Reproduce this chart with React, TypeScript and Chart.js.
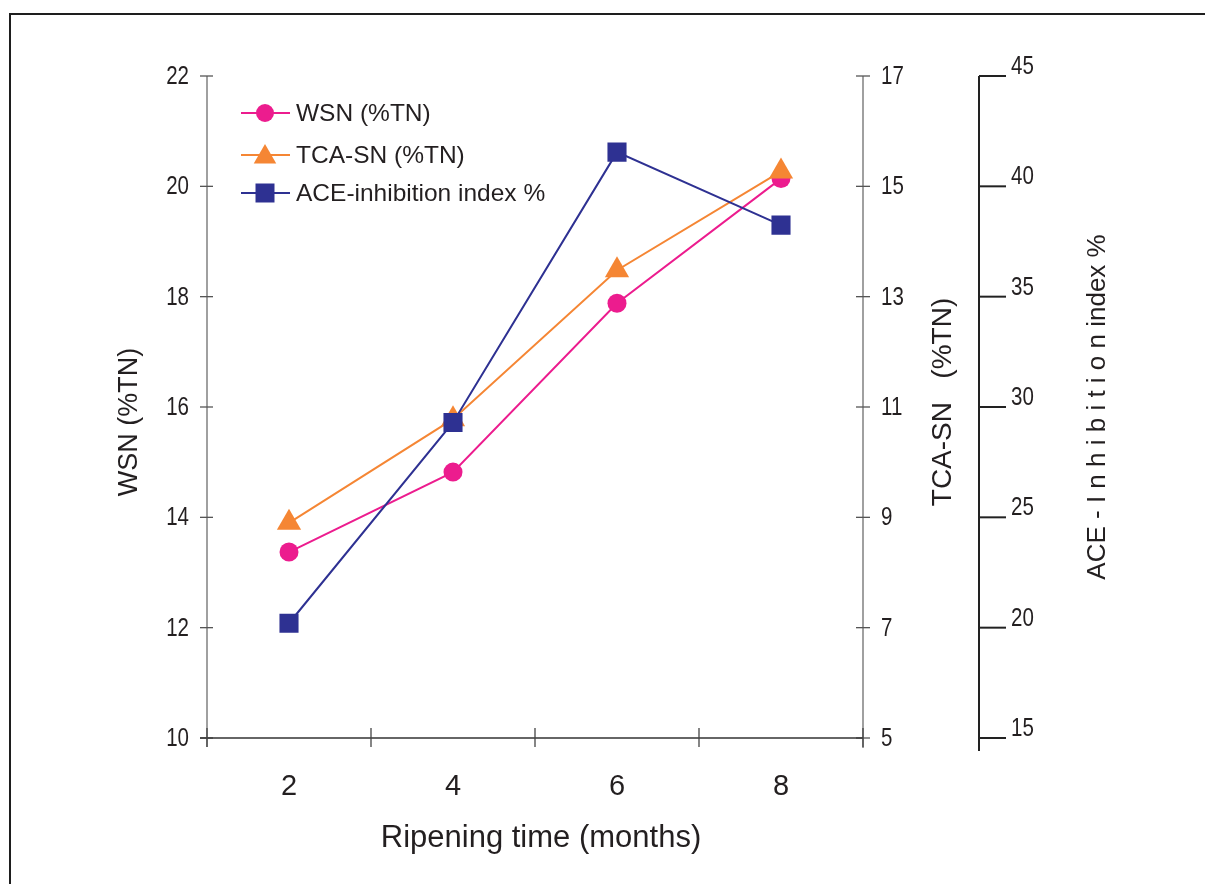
import React, { useEffect, useRef } from "react";
import { Chart, registerables } from "chart.js";

Chart.register(...registerables);

// ---- data ----
const months = ["2", "4", "6", "8"];
const wsnValues = [13.37, 14.82, 17.88, 20.14];
const tcaValues = [8.9, 10.78, 13.48, 15.27];
const aceValues = [20.2, 29.3, 41.55, 38.24];

const wsnRange = [10, 22];
const wsnStep = 2;
const tcaRange = [5, 17];
const tcaStep = 2;
const aceRange = [15, 45];
const aceStep = 5;

const seriesLabels = ["WSN (%TN)", "TCA-SN (%TN)", "ACE-inhibition index %"];
const seriesColors = ["#EC1C8E", "#F58634", "#2E3192"];

const xTitle = "Ripening time (months)";
const wsnTitle = "WSN (%TN)";
const tcaTitle = "TCA-SN   (%TN)";
const aceTitle = "ACE - I n h i b i t i o n index %";

const SANS = "'Liberation Sans', Arial, Helvetica, sans-serif";
const INK = "#231f20";

function seg(ctx: CanvasRenderingContext2D, x1: number, y1: number, x2: number, y2: number, color: string, w: number) {
  ctx.beginPath();
  ctx.strokeStyle = color;
  ctx.lineWidth = w;
  ctx.moveTo(x1, y1);
  ctx.lineTo(x2, y2);
  ctx.stroke();
}

function marker(ctx: CanvasRenderingContext2D, style: string, x: number, y: number, color: string) {
  ctx.fillStyle = color;
  ctx.beginPath();
  if (style === "circle") {
    ctx.arc(x, y, 9, 0, Math.PI * 2);
  } else if (style === "triangle") {
    const r = 13;
    ctx.moveTo(x, y - r);
    ctx.lineTo(x + r * 0.866, y + r / 2);
    ctx.lineTo(x - r * 0.866, y + r / 2);
    ctx.closePath();
  } else {
    ctx.rect(x - 9.5, y - 9.5, 19, 19);
  }
  ctx.fill();
}

// narrow (horizontally condensed) tick label
function narrowText(ctx: CanvasRenderingContext2D, text: string, x: number, y: number, align: CanvasTextAlign) {
  ctx.save();
  ctx.translate(x, y);
  ctx.scale(0.82, 1);
  ctx.font = `25px ${SANS}`;
  ctx.fillStyle = INK;
  ctx.textAlign = align;
  ctx.textBaseline = "middle";
  ctx.fillText(text, 0, 0);
  ctx.restore();
}

const decorPlugin = {
  id: "decor",
  beforeDatasetsDraw(chart: any) {
    const ctx: CanvasRenderingContext2D = chart.ctx;
    const { x, y, y1, y2 } = chart.scales;
    const a = chart.chartArea;
    ctx.save();
    // left axis
    seg(ctx, a.left, a.top, a.left, a.bottom + 9, "#808080", 1.5);
    y.ticks.forEach((t: any) => {
      const p = y.getPixelForValue(t.value);
      seg(ctx, a.left - 7, p, a.left + 6, p, "#555", 1.3);
      narrowText(ctx, String(t.label), a.left - 18, p + 1, "right");
    });
    // right TCA axis
    seg(ctx, a.right, a.top, a.right, a.bottom + 10, "#808080", 1.5);
    y1.ticks.forEach((t: any) => {
      const p = y1.getPixelForValue(t.value);
      seg(ctx, a.right - 7, p, a.right + 7, p, "#555", 1.3);
      narrowText(ctx, String(t.label), a.right + 18, p + 1, "left");
    });
    // ACE axis
    const ax = y2.left;
    seg(ctx, ax, a.top, ax, a.bottom + 13, "#222", 2);
    y2.ticks.forEach((t: any) => {
      const p = y2.getPixelForValue(t.value);
      seg(ctx, ax, p, ax + 27, p, "#222", 2);
      narrowText(ctx, String(t.label), ax + 32, p - 9, "left");
    });
    // x axis
    seg(ctx, a.left - 7, a.bottom, a.right, a.bottom, "#333", 1.5);
    const n = x.ticks.length;
    const half = (x.getPixelForValue(1) - x.getPixelForValue(0)) / 2;
    for (let i = 0; i <= n; i++) {
      const p = i < n ? x.getPixelForValue(i) - half : x.getPixelForValue(n - 1) + half;
      seg(ctx, p, a.bottom - 10, p, a.bottom + 9, "#444", 1.3);
    }
    ctx.restore();
  },
  afterDraw(chart: any) {
    const ctx: CanvasRenderingContext2D = chart.ctx;
    ctx.save();
    ctx.fillStyle = INK;
    // x title
    ctx.font = `31px ${SANS}`;
    ctx.textAlign = "center";
    ctx.textBaseline = "alphabetic";
    ctx.fillText(xTitle, 541, 847);
    // rotated titles
    const rot = (text: string, bx: number, cy: number, font: string, sx: number) => {
      ctx.save();
      ctx.translate(bx, cy);
      ctx.rotate(-Math.PI / 2);
      ctx.scale(sx, 1);
      ctx.font = font;
      ctx.textAlign = "center";
      ctx.textBaseline = "alphabetic";
      ctx.fillText(text, 0, 0);
      ctx.restore();
    };
    rot(wsnTitle, 137, 422, `27px ${SANS}`, 1);
    rot(tcaTitle, 951, 402, `28px ${SANS}`, 1);
    rot(aceTitle, 1105, 407, `25px ${SANS}`, 1.04);

    // legend
    const styles = ["circle", "triangle", "rect"];
    const rows = [113, 155, 193];
    chart.data.datasets.forEach((ds: any, i: number) => {
      const yy = rows[i];
      seg(ctx, 241, yy, 290, yy, ds.borderColor, 2);
      marker(ctx, styles[i], 265, i === 1 ? yy + 2 : yy, ds.borderColor);
      ctx.fillStyle = INK;
      ctx.font = `24.5px ${SANS}`;
      ctx.textAlign = "left";
      ctx.textBaseline = "middle";
      ctx.fillText(ds.label, 296, yy + 1);
    });
    ctx.restore();
  },
};

export default function App() {
  const ref = useRef<HTMLCanvasElement | null>(null);

  useEffect(() => {
    if (!ref.current) return;
    const chart = new Chart(ref.current, {
      type: "line",
      data: {
        labels: months,
        datasets: [
          {
            label: seriesLabels[0],
            data: wsnValues,
            yAxisID: "y",
            borderColor: seriesColors[0],
            backgroundColor: seriesColors[0],
            borderWidth: 2,
            pointStyle: "circle",
            pointRadius: 9.5,
            pointBorderWidth: 0,
            order: 2,
          },
          {
            label: seriesLabels[1],
            data: tcaValues,
            yAxisID: "y1",
            borderColor: seriesColors[1],
            backgroundColor: seriesColors[1],
            borderWidth: 2,
            pointStyle: "triangle",
            pointRadius: 14,
            pointBorderWidth: 0,
            order: 1,
          },
          {
            label: seriesLabels[2],
            data: aceValues,
            yAxisID: "y2",
            borderColor: seriesColors[2],
            backgroundColor: seriesColors[2],
            borderWidth: 2,
            pointStyle: "rect",
            pointRadius: 13.5,
            pointBorderWidth: 0,
            order: 0,
          },
        ],
      },
      options: {
        responsive: false,
        devicePixelRatio: 1,
        animation: false,
        events: [],
        layout: { padding: { top: 76, left: 0, right: 0, bottom: 0 } },
        plugins: { legend: { display: false }, tooltip: { enabled: false } },
        scales: {
          x: {
            type: "category",
            offset: true,
            grid: { display: false },
            border: { display: false },
            ticks: { color: INK, font: { family: SANS, size: 29 }, padding: 24 },
            afterFit: (s: any) => { s.height = 146; },
          },
          y: {
            position: "left",
            min: wsnRange[0],
            max: wsnRange[1],
            grid: { display: false },
            border: { display: false },
            ticks: { stepSize: wsnStep, display: false },
            afterFit: (s: any) => { s.width = 207; },
          },
          y1: {
            position: "right",
            min: tcaRange[0],
            max: tcaRange[1],
            grid: { display: false },
            border: { display: false },
            ticks: { stepSize: tcaStep, display: false },
            afterFit: (s: any) => { s.width = 116; },
          },
          y2: {
            position: "right",
            min: aceRange[0],
            max: aceRange[1],
            grid: { display: false },
            border: { display: false },
            ticks: { stepSize: aceStep, display: false },
            afterFit: (s: any) => { s.width = 226; },
          },
        },
      },
      plugins: [decorPlugin],
    } as any);
    return () => chart.destroy();
  }, []);

  return (
    <div style={{ position: "absolute", left: 0, top: 0, width: 1205, height: 884, background: "#fff", overflow: "hidden" }}>
      <div
        style={{
          position: "absolute",
          left: 9,
          top: 13,
          width: 1200,
          height: 880,
          borderTop: "2px solid #1e1e1e",
          borderLeft: "2px solid #1e1e1e",
        }}
      />
      <canvas ref={ref} width={1205} height={884} style={{ position: "absolute", left: 0, top: 0, width: 1205, height: 884 }} />
    </div>
  );
}
